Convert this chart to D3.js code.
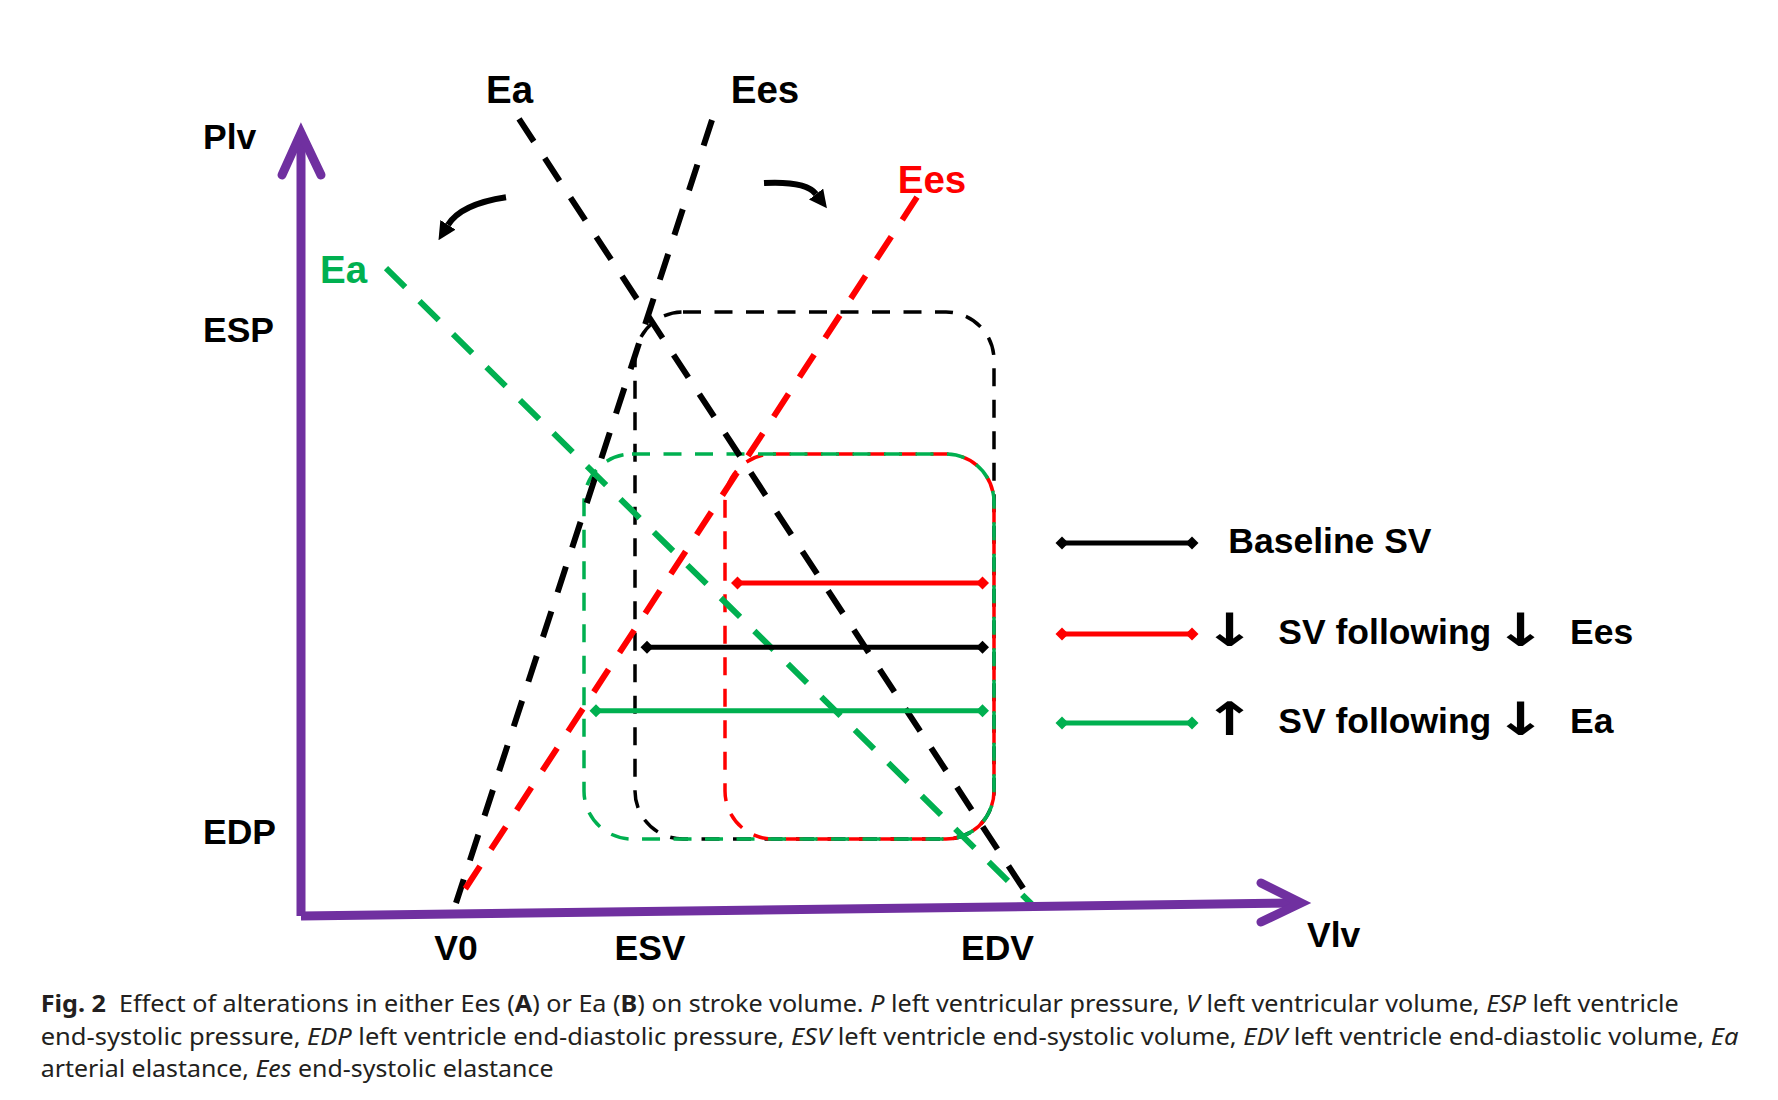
<!DOCTYPE html>
<html>
<head>
<meta charset="utf-8">
<script src="https://cdn.jsdelivr.net/npm/d3@7"></script>
<style>
  body { margin: 0; background: #fff; }
</style>
</head>
<body>
<div id="chart"></div>
<script>
// pressure-volume scheme, values (arbitrary units)
const conditions = ['baseline', 'lowEes', 'lowEa']
const esv = [66.8, 84.8, 56.6]
const edv = [138.6, 138.6, 138.6]
const esp = [115.7, 88.5, 88.5]
const edp = [14.75, 14.75, 14.75]

// stroke volume bars
const svLevel = [51.5, 63.8, 39.3]
const svFrom = [69.2, 87.3, 59.0]
const svTo = [136.3, 136.3, 136.3]

// elastance lines, drawn from their upper end down to the axis
const lineNames = ['Ees', 'Ea', 'Ees', 'Ea']
const lineCondition = ['baseline', 'baseline', 'lowEes', 'lowEa']
const lineTopVol = [82.2, 43.6, 123.2, 17.0]
const lineTopP = [152.5, 152.7, 137.7, 124.1]
const lineFootVol = [31.0, 145.8, 31.0, 146.1]
const lineFootP = [2.5, 3.3, 2.5, 2.3]

// curved arrows showing the shift of each line [start, control, end]
const shiftArrows = [
  [[41.0, 137.7], [32.0, 136.4], [29.4, 132.4]],
  [[92.6, 140.4], [101.0, 140.8], [103.0, 138.3]]
]

// tick labels
const xTickLabels = ['V0', 'ESV', 'EDV']
const xTickValues = [31, 69.8, 139.3]
const yTickLabels = ['ESP', 'EDP']
const yTickValues = [112.3, 16.0]

const legendLabels = ['Baseline SV', 'SV following', 'SV following']
const legendPrefix = ['', '\u2193', '\u2191']
const legendSuffix = ['', 'Ees', 'Ea']

const captionLines = [
  [['Fig. 2', 'b'], ['  Effect of alterations in either Ees (', ''], ['A', 'b'], [') or Ea (', ''], ['B', 'b'],
    [') on stroke volume. ', ''], ['P', 'i'], [' left ventricular pressure, ', ''], ['V', 'i'],
    [' left ventricular volume, ', ''], ['ESP', 'i'], [' left ventricle', '']],
  [['end-systolic pressure, ', ''], ['EDP', 'i'], [' left ventricle end-diastolic pressure, ', ''], ['ESV', 'i'],
    [' left ventricle end-systolic volume, ', ''], ['EDV', 'i'], [' left ventricle end-diastolic volume, ', ''], ['Ea', 'i']],
  [['arterial elastance, ', ''], ['Ees', 'i'], [' end-systolic elastance', '']]
]
const captionWidths = [1639, 1698, 513]

const colors = { baseline: '#000000', lowEes: '#ff0000', lowEa: '#00b050' }
const axisColor = '#7030a0'
const labelFont = '"Liberation Sans", Arial, sans-serif'

const width = 1778
const height = 1100

const svg = d3.select('#chart')
  .append('svg')
  .attr('width', width)
  .attr('height', height)

const x = d3.scaleLinear().domain([0, 200]).range([301, 1301])
const y = d3.scaleLinear().domain([0, 150]).range([916, 133])

const line = d3.line().x(d => x(d[0])).y(d => y(d[1]))

svg.append('defs').append('marker')
  .attr('id', 'head')
  .attr('viewBox', '0 -5 10 10')
  .attr('refX', 0)
  .attr('refY', 0)
  .attr('markerWidth', 3)
  .attr('markerHeight', 3)
  .attr('orient', 'auto')
  .append('path')
  .attr('d', 'M0,-5L10,0L0,5Z')
  .attr('fill', '#000')

// PV loops as rounded boxes
conditions.forEach((c, i) => {
  svg.append('rect')
    .attr('x', x(esv[i]))
    .attr('y', y(esp[i]))
    .attr('width', x(edv[i]) - x(esv[i]))
    .attr('height', y(edp[i]) - y(esp[i]))
    .attr('rx', 48)
    .attr('ry', 48)
    .attr('fill', 'none')
    .attr('stroke', colors[c])
    .attr('stroke-width', 3.5)
    .attr('stroke-dasharray', '18 13.5')
})

// elastance lines
lineNames.forEach((name, i) => {
  svg.append('path')
    .attr('d', line([[lineTopVol[i], lineTopP[i]], [lineFootVol[i], lineFootP[i]]]))
    .attr('fill', 'none')
    .attr('stroke', colors[lineCondition[i]])
    .attr('stroke-width', 6)
    .attr('stroke-dasharray', '27 20')
})

const labelOffsets = [[53, -17], [-9.5, -16], [15, -4], [-42.5, 15]]
lineNames.forEach((name, i) => {
  svg.append('text')
    .text(name)
    .attr('x', x(lineTopVol[i]) + labelOffsets[i][0])
    .attr('y', y(lineTopP[i]) + labelOffsets[i][1])
    .attr('text-anchor', 'middle')
    .attr('font-family', labelFont)
    .attr('font-weight', 'bold')
    .attr('font-size', 38.5)
    .attr('fill', colors[lineCondition[i]])
})

// shift arrows
shiftArrows.forEach(a => {
  svg.append('path')
    .attr('d', `M${x(a[0][0])},${y(a[0][1])}Q${x(a[1][0])},${y(a[1][1])} ${x(a[2][0])},${y(a[2][1])}`)
    .attr('fill', 'none')
    .attr('stroke', '#000')
    .attr('stroke-width', 6)
    .attr('marker-end', 'url(#head)')
})

// stroke volume bars
const diamond = d3.symbol(d3.symbolSquare, 85)
const drawBar = (x1, x2, yy, color) => {
  svg.append('line')
    .attr('x1', x1).attr('x2', x2)
    .attr('y1', yy).attr('y2', yy)
    .attr('stroke', color)
    .attr('stroke-width', 5)
  ;[x1, x2].forEach(px => {
    svg.append('path')
      .attr('d', diamond())
      .attr('transform', `translate(${px},${yy}) rotate(45)`)
      .attr('fill', color)
  })
}
conditions.forEach((c, i) => drawBar(x(svFrom[i]), x(svTo[i]), y(svLevel[i]), colors[c]))

// axes
const axes = svg.append('g')
  .attr('fill', 'none')
  .attr('stroke', axisColor)
  .attr('stroke-width', 9)
axes.append('path')
  .attr('d', line([[0, 0], [0, 150]]))
axes.append('path')
  .attr('d', line([[0, 0], [200, 2.5]]))
const yTip = [x(0), y(150)]
const xTip = [x(200), y(2.5)]
axes.append('path')
  .attr('d', `M${yTip[0] - 19},${yTip[1] + 42}L${yTip[0]},${yTip[1]}L${yTip[0] + 20},${yTip[1] + 42}`)
  .attr('stroke-linecap', 'round')
axes.append('path')
  .attr('d', `M${xTip[0] - 40},${xTip[1] - 20}L${xTip[0]},${xTip[1]}L${xTip[0] - 40},${xTip[1] + 19}`)
  .attr('stroke-linecap', 'round')

const labels = svg.append('g')
  .attr('font-family', labelFont)
  .attr('font-weight', 'bold')
  .attr('font-size', 35.5)
  .attr('fill', '#000')

labels.append('text').text('Plv').attr('x', 203).attr('y', 149)
labels.append('text').text('Vlv').attr('x', 1307).attr('y', 946.5)

labels.selectAll('.xtick')
  .data(xTickLabels)
  .enter()
  .append('text')
  .text(d => d)
  .attr('x', (d, i) => x(xTickValues[i]))
  .attr('y', 960)
  .attr('text-anchor', 'middle')

labels.selectAll('.ytick')
  .data(yTickLabels)
  .enter()
  .append('text')
  .text(d => d)
  .attr('x', 203)
  .attr('y', (d, i) => y(yTickValues[i]))
  .attr('dominant-baseline', 'central')

// legend
const legendY = [543, 634, 723]
const arrowText = (row, ch, cx) => row.append('text')
  .text(ch)
  .attr('transform', `translate(${cx},2) scale(1.35,1)`)
  .attr('text-anchor', 'middle')
  .attr('font-family', '"DejaVu Sans", sans-serif')
  .attr('font-weight', 'bold')
  .attr('font-size', 46)

conditions.forEach((c, i) => {
  drawBar(1062, 1192, legendY[i], colors[c])
  const row = labels.append('g').attr('transform', `translate(0,${legendY[i] + 9.5})`)
  if (legendPrefix[i]) {
    arrowText(row, legendPrefix[i], 1229.5)
    row.append('text').text(legendLabels[i]).attr('x', 1278.3)
    arrowText(row, '\u2193', 1520.5)
    row.append('text').text(legendSuffix[i]).attr('x', 1570)
  } else {
    row.append('text').text(legendLabels[i]).attr('x', 1228.3)
  }
})

// caption
const captionBase = [1012.3, 1044.5, 1076.7]
captionLines.forEach((parts, i) => {
  const t = svg.append('text')
    .attr('font-family', '"Noto Sans", "Open Sans", sans-serif')
    .attr('font-size', 24)
    .attr('fill', '#231f20')
    .style('white-space', 'pre')
  parts.forEach(p => {
    t.append('tspan')
      .text(p[0])
      .attr('font-weight', p[1] === 'b' ? 'bold' : 'normal')
      .attr('font-style', p[1] === 'i' ? 'italic' : 'normal')
  })
  const w = t.node().getComputedTextLength()
  t.attr('transform', `translate(40.7,${captionBase[i]}) scale(${captionWidths[i] / w},1)`)
})
</script>
</body>
</html>
